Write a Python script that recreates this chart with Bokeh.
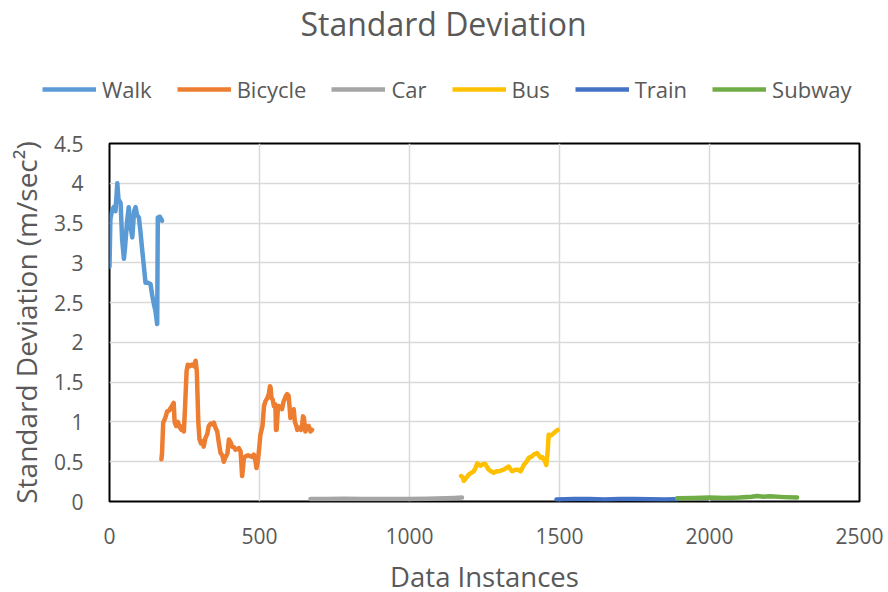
from bokeh.plotting import figure
from bokeh.layouts import column, row
from bokeh.models import Range1d, Label, Legend, LegendItem, FixedTicker
from bokeh.embed import file_html
from bokeh.resources import INLINE

# ---- data ----
walk_x = [0, 3, 8, 14, 20, 26, 30, 37, 42, 48, 52, 58, 64, 70, 76, 82, 87, 92, 98,
          103, 108, 114, 120, 128, 137, 142, 148, 153, 159, 161, 168, 175]
walk_y = [2.95, 3.55, 3.65, 3.7, 3.65, 4.0, 3.8, 3.75, 3.3, 3.05, 3.2, 3.5, 3.7, 3.45,
          3.32, 3.65, 3.7, 3.6, 3.57, 3.4, 3.2, 2.98, 2.75, 2.75, 2.73, 2.6, 2.48, 2.4,
          2.23, 3.57, 3.58, 3.53]

bike_x = [173, 175, 179, 186, 192, 200, 208, 214, 217, 222, 228, 234, 240, 245, 248, 252,
          257, 261, 268, 275, 282, 287, 291, 296, 300, 305, 311, 314, 320, 326, 331, 338,
          343, 348, 353, 359, 364, 370, 376, 381, 386, 393, 398, 403, 409, 415, 420, 426,
          431, 437, 440, 442, 445, 448, 455, 462, 470, 476, 481, 486, 490, 494, 498, 503,
          510, 515, 520, 526, 531, 535, 537, 540, 544, 548, 553, 555, 557, 561, 564, 570,
          575, 580, 587, 592, 597, 600, 603, 608, 614, 618, 623, 626, 632, 638, 642, 645,
          648, 653, 658, 664, 670, 675]
bike_y = [0.53, 0.6, 0.99, 1.05, 1.13, 1.15, 1.2, 1.24, 1.0, 0.95, 1.0, 0.93, 0.9, 0.95,
          0.88, 1.2, 1.64, 1.72, 1.7, 1.72, 1.7, 1.77, 1.64, 1.0, 0.78, 0.73, 0.76, 0.69,
          0.8, 0.85, 0.95, 0.98, 0.97, 0.99, 0.93, 0.88, 0.75, 0.61, 0.58, 0.5, 0.55, 0.6,
          0.78, 0.75, 0.69, 0.68, 0.65, 0.66, 0.67, 0.63, 0.45, 0.32, 0.42, 0.55, 0.57,
          0.58, 0.57, 0.56, 0.59, 0.52, 0.42, 0.5, 0.63, 0.84, 0.95, 1.2, 1.26, 1.3, 1.35,
          1.45, 1.43, 1.3, 1.28, 1.2, 1.22, 0.9, 0.9, 1.15, 1.2, 1.18, 1.16, 1.25, 1.32,
          1.35, 1.33, 1.2, 1.05, 1.1, 1.16, 1.0, 0.95, 0.9, 0.93, 0.9, 0.95, 1.07, 1.05,
          0.88, 0.93, 0.95, 0.88, 0.9]

car_x = [670, 720, 780, 850, 920, 1000, 1060, 1120, 1150, 1175]
car_y = [0.03, 0.03, 0.035, 0.03, 0.03, 0.03, 0.035, 0.04, 0.045, 0.05]

bus_x = [1172, 1178, 1181, 1190, 1198, 1206, 1214, 1220, 1226, 1232, 1237, 1245, 1253,
         1259, 1264, 1272, 1281, 1290, 1298, 1306, 1314, 1322, 1331, 1336, 1342, 1348,
         1353, 1362, 1370, 1376, 1381, 1390, 1398, 1406, 1414, 1420, 1425, 1431, 1437,
         1442, 1448, 1452, 1456, 1460, 1464, 1470, 1475, 1481, 1487, 1494]
bus_y = [0.32, 0.3, 0.26, 0.3, 0.34, 0.36, 0.38, 0.42, 0.48, 0.46, 0.45, 0.47, 0.47,
         0.43, 0.40, 0.38, 0.36, 0.38, 0.38, 0.39, 0.40, 0.42, 0.44, 0.41, 0.38, 0.39,
         0.40, 0.40, 0.38, 0.42, 0.46, 0.5, 0.55, 0.56, 0.59, 0.6, 0.61, 0.58, 0.55,
         0.56, 0.53, 0.5, 0.46, 0.6, 0.84, 0.83, 0.84, 0.86, 0.88, 0.9]

train_x = [1490, 1550, 1600, 1650, 1700, 1750, 1800, 1850, 1892]
train_y = [0.025, 0.03, 0.03, 0.025, 0.03, 0.03, 0.028, 0.025, 0.028]

subway_x = [1892, 1950, 2000, 2050, 2100, 2140, 2160, 2180, 2200, 2250, 2292]
subway_y = [0.04, 0.045, 0.05, 0.045, 0.05, 0.06, 0.07, 0.06, 0.065, 0.055, 0.05]

series_names = ["Walk", "Bicycle", "Car", "Bus", "Train", "Subway"]
series_colors = ["#5B9BD5", "#ED7D31", "#A5A5A5", "#FFC000", "#4472C4", "#70AD47"]
x_ticks = [0, 500, 1000, 1500, 2000, 2500]
y_ticks = [0, 0.5, 1, 1.5, 2, 2.5, 3, 3.5, 4, 4.5]

FONT = "Open Sans"
GREY = "#595959"
LW = 4.5

data = [(walk_x, walk_y), (bike_x, bike_y), (car_x, car_y),
        (bus_x, bus_y), (train_x, train_y), (subway_x, subway_y)]


def blank_fig(h):
    f = figure(width=888, height=h, x_range=Range1d(0, 888), y_range=Range1d(0, h),
               min_border=0, x_axis_location=None, y_axis_location=None,
               output_backend="svg", toolbar_location=None)
    f.title = None
    f.grid.visible = False
    f.outline_line_color = None
    f.background_fill_color = "white"
    f.border_fill_color = "white"
    return f


# ---- header: title + legend ----
TOP_H = 126
top = blank_fig(TOP_H)
top.add_layout(Label(x=443, y=TOP_H - 23, x_units="screen", y_units="screen",
                     text="Standard Deviation", text_align="center", text_baseline="middle",
                     text_font=FONT, text_font_size="32px", text_color=GREY))
items = []
for (xs, ys), name, col in zip(data, series_names, series_colors):
    r = top.line(xs, ys, line_color=col, line_width=LW, visible=False)
    items.append(LegendItem(label=name, renderers=[r]))
legend = Legend(items=items, orientation="horizontal", location=(42, 22),
                glyph_width=54, glyph_height=20, label_standoff=6, spacing=25,
                padding=0, margin=0, border_line_color=None, background_fill_alpha=0,
                inactive_fill_alpha=0,
                label_text_font=FONT, label_text_font_size="22px", label_text_color=GREY,
                label_height=20)
top.add_layout(legend)

# ---- main plot ----
MAIN_H = 432
p = figure(width=888, height=MAIN_H,
           min_border_left=109, min_border_right=29, min_border_top=17, min_border_bottom=57,
           x_range=Range1d(0, 2500), y_range=Range1d(0, 4.5),
           output_backend="svg", toolbar_location=None)
p.title = None
p.background_fill_color = "white"
p.border_fill_color = "white"
p.outline_line_color = "black"
p.outline_line_width = 2

p.xgrid.grid_line_color = "#D9D9D9"
p.ygrid.grid_line_color = "#D9D9D9"
p.xgrid.grid_line_width = 1.5
p.ygrid.grid_line_width = 1.5

for ax in (p.xaxis[0], p.yaxis[0]):
    ax.axis_line_color = None
    ax.major_tick_line_color = None
    ax.minor_tick_line_color = None
    ax.major_tick_out = 0
    ax.major_tick_in = 0
    ax.minor_tick_out = 0
    ax.minor_tick_in = 0
    ax.major_label_text_font = FONT
    ax.major_label_text_font_size = "21px"
    ax.major_label_text_color = GREY
    ax.axis_label_text_font = FONT
    ax.axis_label_text_font_size = "28px"
    ax.axis_label_text_font_style = "normal"
    ax.axis_label_text_color = GREY

p.xaxis.ticker = FixedTicker(ticks=x_ticks)
p.yaxis.ticker = FixedTicker(ticks=y_ticks)
p.xaxis.major_label_overrides = {t: str(t) for t in x_ticks}
p.yaxis.major_label_overrides = {t: (str(int(t)) if t == int(t) else str(t)) for t in y_ticks}
p.xaxis.major_label_standoff = 26
p.yaxis.major_label_standoff = 26
p.yaxis.axis_label = "Standard Deviation (m/sec²)"
p.yaxis.axis_label_standoff = 6

for (xs, ys), col in zip(data, series_colors):
    p.line(xs, ys, line_color=col, line_width=LW, line_join="round", line_cap="round")

# ---- footer: x-axis title ----
BOT_H = 592 - TOP_H - MAIN_H
bot = blank_fig(BOT_H)
bot.add_layout(Label(x=484, y=16, x_units="screen", y_units="screen", text="Data Instances",
                     text_align="center", text_baseline="middle", text_font=FONT,
                     text_font_size="27.5px", text_color=GREY))

layout = column(row(top), p, row(bot), spacing=0)
open("out.html", "w").write(file_html(layout, INLINE))
